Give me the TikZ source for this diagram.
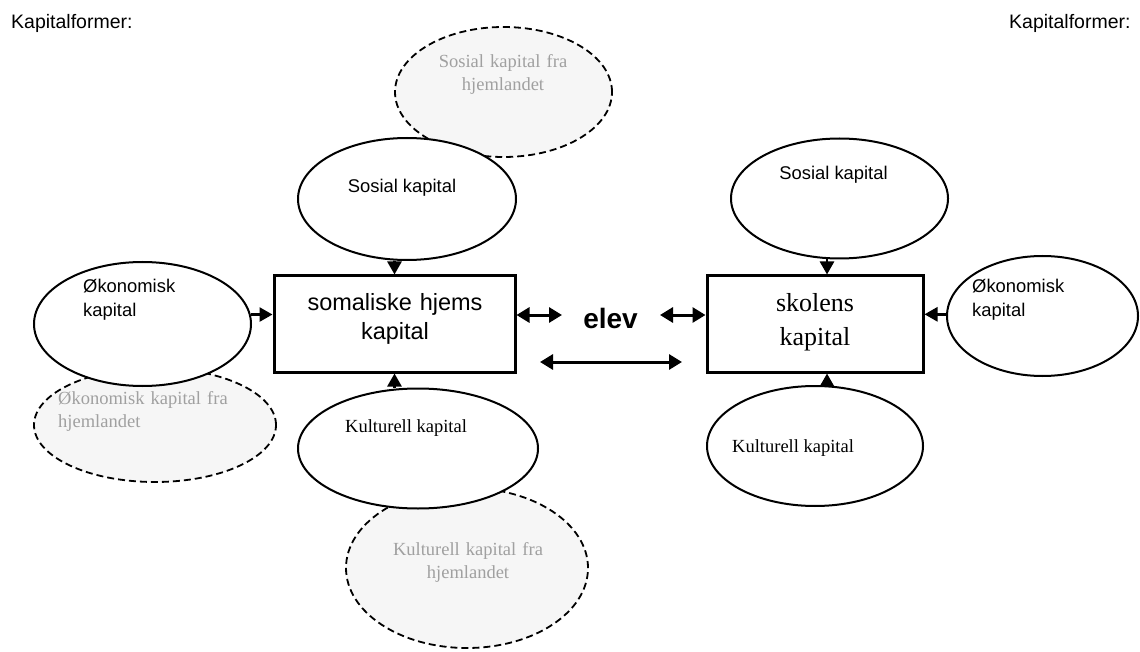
\documentclass[tikz,border=0pt]{standalone}
\usepackage{fontspec}
\setmainfont{Liberation Serif}
\newfontfamily\arialfont{Liberation Sans}
\usetikzlibrary{shapes.geometric,arrows.meta}
\definecolor{fratext}{HTML}{A0A0A0}
\definecolor{frafill}{HTML}{F6F6F6}
\begin{document}
\begin{tikzpicture}[x=1pt,y=-1pt,
  kapell/.style={draw,ellipse,line width=2pt,fill=white,inner sep=0pt},
  fraell/.style={draw,ellipse,line width=1.8pt,dash pattern=on 7pt off 4pt,fill=frafill,inner sep=0pt},
  kapbox/.style={draw,line width=3pt,inner sep=0pt},
  arlab/.style={font=\arialfont\fontsize{18.4}{24}\selectfont,inner sep=0pt},
  tmlab/.style={font=\fontsize{18.5}{23}\selectfont,inner sep=0pt},
  fralab/.style={font=\fontsize{18.5}{23}\selectfont,text=fratext,inner sep=0pt},
  kaparr/.style={-{Triangle[length=13pt,width=14pt]},line width=2.6pt},
  kapdarr/.style={{Triangle[length=13pt,width=15pt]}-{Triangle[length=13pt,width=15pt]},line width=3pt}]
\useasboundingbox (0,0) rectangle (1140,652);
\node[font=\arialfont\fontsize{19.5}{24}\selectfont,inner sep=0pt,anchor=base west] (formL) at (11,29) {Kapitalformer:};
\node[font=\arialfont\fontsize{19.5}{24}\selectfont,inner sep=0pt,anchor=base west] (formR) at (1009,29) {Kapitalformer:};
% fra hjemlandet
\node[fraell,minimum width=217,minimum height=130] (fraS) at (503.5,92) {};
\node[fraell,minimum width=242,minimum height=114] (fraO) at (155,425) {};
\node[fraell,minimum width=242,minimum height=160] (fraK) at (467,568) {};
\node[fralab,anchor=base,text width=200pt,align=center] (fraStxt) at (503,68) {Sosial kapital fra\\hjemlandet};
\node[fralab,anchor=base west,text width=220pt,align=left] (fraOtxt) at (58,404) {Økonomisk kapital fra\\hjemlandet};
\node[fralab,anchor=base,text width=200pt,align=center] (fraKtxt) at (468,555) {Kulturell kapital fra\\hjemlandet};
% hjemmet
\node[kapell,minimum width=218,minimum height=122] (sosL) at (407,199) {};
\node[kapell,minimum width=217,minimum height=124] (okoL) at (142.5,324) {};
\node[kapell,minimum width=240,minimum height=120] (kulL) at (418,448.5) {};
\node[kapbox,minimum width=241,minimum height=96] (boxL) at (394.5,324) {};
\node[arlab,anchor=base] (sosLtxt) at (402,193) {Sosial kapital};
\node[arlab,anchor=base west,text width=120pt,align=left] (okoLtxt) at (83,293) {Økonomisk\\kapital};
\node[tmlab,anchor=base west] (kulLtxt) at (345,432) {Kulturell kapital};
\node[font=\arialfont\fontsize{23.5}{29}\selectfont,inner sep=0pt,anchor=base,text width=230pt,align=center] (boxLtxt) at (395,310) {somaliske hjems\\kapital};
% skolen
\node[kapell,minimum width=217,minimum height=120] (sosR) at (839.5,198.5) {};
\node[kapell,minimum width=191,minimum height=120] (okoR) at (1042.5,316) {};
\node[kapell,minimum width=216,minimum height=120] (kulR) at (815,446) {};
\node[kapbox,minimum width=216,minimum height=96] (boxR) at (815,324) {};
\node[arlab,anchor=base] (sosRtxt) at (833.5,180) {Sosial kapital};
\node[arlab,anchor=base west,text width=120pt,align=left] (okoRtxt) at (972,293) {Økonomisk\\kapital};
\node[tmlab,anchor=base west] (kulRtxt) at (732,452) {Kulturell kapital};
\node[font=\fontsize{26}{33}\selectfont,inner sep=0pt,anchor=base,text width=200pt,align=center] (boxRtxt) at (815,312) {skolens\\kapital};
% elev
\node[font=\arialfont\bfseries\fontsize{28}{34}\selectfont,inner sep=0pt,anchor=base] (elev) at (610.5,328) {elev};
\coordinate (elevW) at (562,315);
\coordinate (elevE) at (660,315);
\coordinate (linkA) at (540,362);
\coordinate (linkB) at (682,362);
\coordinate (topR) at ([xshift=12pt]boxR.north);
\coordinate (botR) at ([xshift=12pt]boxR.south);
\draw[kaparr] (sosL.south -| boxL.north) -- (boxL.north);
\draw[kaparr] (kulL.north -| boxL.south) -- (boxL.south);
\draw[kaparr] (okoL.5) -- (okoL.5 -| boxL.west);
\draw[kaparr] (sosR.south -| topR) -- (topR);
\draw[kaparr] (kulR.north -| botR) -- (botR);
\draw[kaparr] (okoR.179) -- (okoR.179 -| boxR.east);
\draw[kapdarr] (boxL.east |- elevW) -- (elevW);
\draw[kapdarr] (elevE) -- (elevE -| boxR.west);
\draw[kapdarr] (linkA) -- (linkB);
\end{tikzpicture}
\end{document}
